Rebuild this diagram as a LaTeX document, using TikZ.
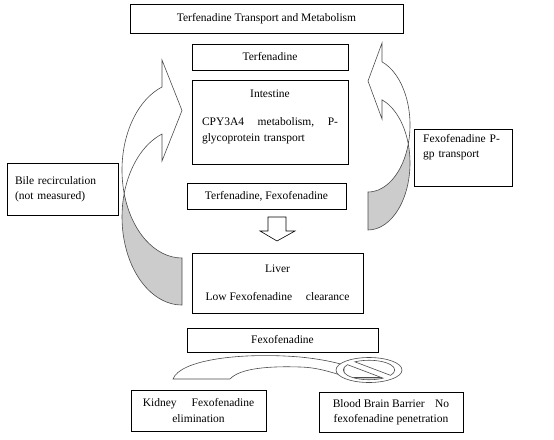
\documentclass[tikz,border=0pt]{standalone}
\usepackage{fontspec}
\setmainfont{Liberation Serif}
\usetikzlibrary{positioning}

\begin{document}
\begin{tikzpicture}[x=1pt, y=-1pt,
  box/.style={draw, line width=0.7pt, inner sep=0pt, font=\fontsize{11.5}{15.5}\selectfont},
  boxtext/.style={inner sep=0pt, font=\fontsize{11.5}{15.5}\selectfont},
  front/.style={draw=black!70, line width=0.6pt, fill=white},
  back/.style={draw=black!70, line width=0.6pt, fill=black!20}]
  \useasboundingbox (0,0) rectangle (554,439);
  \node[box, minimum width=273pt, minimum height=29pt] (title) at (266.5,18.5) {Terfenadine Transport and Metabolism};
  \node[box, minimum width=156pt, minimum height=26pt] (terf) at (270,57) {Terfenadine};
  \node[box, minimum width=156pt, minimum height=84pt] (intestine) at (270,122) {};
  \node[boxtext, anchor=north, text width=136pt, align=left] (intestinetext) at (270,90)
    {\makebox[\linewidth]{Intestine}\\[12.5pt]CPY3A4\hfill metabolism,\hfill P-\\glycoprotein transport};
  \node[box, minimum width=159pt, minimum height=26pt] (terffexo) at (266.5,196) {Terfenadine, Fexofenadine};
  \node[box, minimum width=111pt, minimum height=52pt, text width=95pt, inner xsep=8pt, align=left] (bile) at (62.5,189)
    {Bile recirculation\\(not measured)};
  \node[box, minimum width=98pt, minimum height=57pt] (pgp) at (463,157.5) {};
  \node[boxtext, anchor=north west, text width=82pt, align=left] (pgptext) at (423,134) {Fexofenadine P-\\gp transport};
  \node[box, minimum width=171pt, minimum height=60pt, align=center] (liver) at (277.5,283)
    {Liver\\[12.5pt]Low Fexofenadine\hspace{1.2em}clearance};
  \node[box, minimum width=191pt, minimum height=24pt] (fexo) at (282.5,340) {Fexofenadine};
  \node[box, minimum width=135pt, minimum height=41pt, align=center] (kidney) at (198.5,410.5)
    {Kidney\hspace{1.3em}Fexofenadine\\elimination};
  \node[box, minimum width=144pt, minimum height=40pt, align=center] (bbb) at (391,412)
    {Blood Brain Barrier\hspace{0.9em}No\\fexofenadine penetration};

  \path[back] (124.18,193.5) arc[start angle=195.49, end angle=90, x radius=60, y radius=88] -- (182,258)
    arc[start angle=90, end angle=164.51, x radius=60, y radius=88] -- cycle;
  \path[front] (162,87.03) arc[start angle=250.53, end angle=164.51, x radius=60, y radius=88]
    arc[start angle=195.49, end angle=250.53, x radius=60, y radius=88] -- (162,161) -- (182,110.5) -- (162,60) -- cycle;

  \path[back] (408.27,144) arc[start angle=343.53, end angle=450, x radius=42, y radius=67] -- (368,192)
    arc[start angle=90, end angle=16.47, x radius=42, y radius=67] -- cycle;
  \path[front] (382,61.83) arc[start angle=289.47, end angle=376.47, x radius=42, y radius=67]
    arc[start angle=343.53, end angle=289.47, x radius=42, y radius=67] -- (382,119) -- (368,81) -- (382,43) -- cycle;

  \path[front, draw=black] (268,217) -- (286,217) -- (286,231) -- (295,231) -- (277,241) -- (260,231) -- (268,231) -- cycle;

  \path[front] (173,379) .. controls (180,360) and (240,352) .. (300,357) .. controls (320,359) and (334,362) .. (344,365)
    -- (344,376) .. controls (330,372) and (318,367.5) .. (300,367) .. controls (270,366) and (240,368) .. (230,379) -- cycle;
  \begin{scope}[shift={(369,370)}, xscale=33, yscale=12.5]
    \begin{scope}
      \clip (56.8:0.78) arc[start angle=56.8, end angle=213.2, radius=0.78] -- cycle;
      \path[back] (-1,0.6) rectangle (1,1.2);
    \end{scope}
    \path[front, even odd rule] (0,0) circle (1)
      (-123.2:0.78) arc[start angle=-123.2, end angle=33.2, radius=0.78] -- cycle
      (56.8:0.78) arc[start angle=56.8, end angle=213.2, radius=0.78] -- cycle;
  \end{scope}
\end{tikzpicture}
\end{document}
